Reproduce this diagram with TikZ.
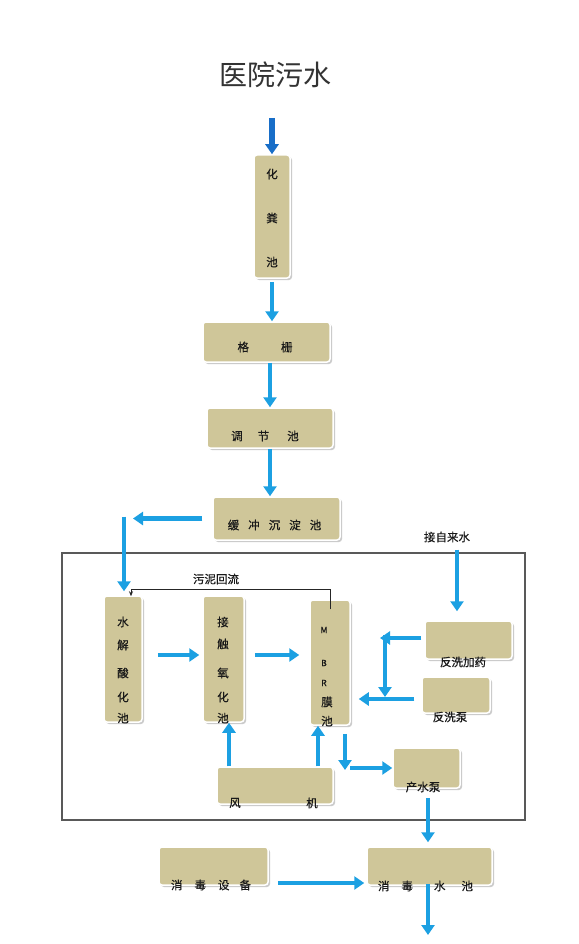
\documentclass[tikz,border=0pt]{standalone}
\usepackage{fontspec}
\newfontfamily\cjk{Noto Sans CJK SC}
\newfontfamily\cjkm{Noto Sans CJK SC}[UprightFeatures={FakeBold=0.6}]
\usetikzlibrary{arrows.meta,shadows,calc}
\definecolor{boxtan}{RGB}{207,198,153}
\definecolor{flow}{RGB}{28,160,226}
\definecolor{flowdark}{RGB}{24,110,200}
\begin{document}
\begin{tikzpicture}[x=1pt,y=-1pt,
  box/.style={draw=white, line width=1.5pt, fill=boxtan, rounded corners=3pt, inner sep=0pt,
    drop shadow={shadow xshift=2pt, shadow yshift=-2pt, fill=black!40}},
  txt/.style={font=\cjkm\fontsize{11.5}{13}\selectfont, text=black!90, inner sep=0pt},
  smalltxt/.style={font=\cjkm\fontsize{8.5}{10}\selectfont, text=black!90, inner sep=0pt},
  flowarr/.style={draw=flow, line width=4.5pt, -{Triangle[width=13pt,length=10pt]}},
  darkarr/.style={draw=flowdark, line width=5.5pt, -{Triangle[width=13pt,length=10pt]}},
  frame/.style={draw=black!65, line width=1.2pt, inner sep=0pt},
  retline/.style={draw=black!85, line width=0.8pt, -{Stealth[length=5pt,width=4pt]}}
]
\fill[white] (0,0) rectangle (578,944);
\useasboundingbox (0,0) rectangle (578,944);

% title
\node[font=\cjk\fontsize{28}{32}\selectfont, text=black!80, inner sep=0pt] (title) at (275,75) {医院污水};

% frame
\node[frame, minimum width=463pt, minimum height=267pt] (frm) at (293.5,686.5) {};

% boxes
\node[box, minimum width=36pt, minimum height=123pt] (hfc) at (272,216.5) {};
\node[box, minimum width=127pt, minimum height=40pt] (gs) at (266.5,342) {};
\node[box, minimum width=126pt, minimum height=40pt] (tj) at (270,428) {};
\node[box, minimum width=127pt, minimum height=43pt] (hc) at (276.5,518.5) {};
\node[box, minimum width=38pt, minimum height=126pt] (sj) at (123,659) {};
\node[box, minimum width=41pt, minimum height=126pt] (jc) at (223.5,659) {};
\node[box, minimum width=40pt, minimum height=125pt] (mbr) at (330,662.5) {};
\node[box, minimum width=87pt, minimum height=38pt] (fxjy) at (468.5,640) {};
\node[box, minimum width=68pt, minimum height=36pt] (fxb) at (456,695) {};
\node[box, minimum width=116pt, minimum height=37pt] (fj) at (275,785.5) {};
\node[box, minimum width=67pt, minimum height=40pt] (csb) at (426.5,768) {};
\node[box, minimum width=125pt, minimum height=38pt] (xdsc) at (429.5,866) {};
\node[box, minimum width=109pt, minimum height=38pt] (xdsb) at (213.5,866) {};

% texts
\foreach \c/\yy [count=\i] in {化/174,粪/218,池/262} \node[txt] (hfc-t\i) at (272,\yy) {\c};
\node[txt] (gs-t) at (265,347) {格\hspace{32pt}栅};
\node[txt] (tj-t) at (265,436) {调\hspace{15pt}节\hspace{18pt}池};
\node[txt] (hc-t) at (274.5,525) {缓\hspace{9pt}冲\hspace{9pt}沉\hspace{9pt}淀\hspace{9pt}池};
\node[txt] (zls) at (447,537) {接自来水};
\node[txt] (wn) at (216,579) {污泥回流};
\foreach \c/\yy [count=\i] in {水/622,解/645,酸/673,化/697,池/718} \node[txt] (sj-t\i) at (123,\yy) {\c};
\foreach \c/\yy [count=\i] in {接/622,触/644,氧/673,化/697,池/718} \node[txt] (jc-t\i) at (223,\yy) {\c};
\foreach \c/\yy [count=\i] in {M/630,B/663,R/683} \node[smalltxt] (mbr-t\i) at (324,\yy) {\c};
\node[txt] (mbr-t4) at (327,702) {膜};
\node[txt] (mbr-t5) at (327,721) {池};
\node[txt] (fxjy-t) at (463,662) {反洗加药};
\node[txt] (fxb-t) at (450,717) {反洗泵};
\node[txt] (csb-t) at (423,787) {产水泵};
\node[txt] (fj-t1) at (235,803) {风};
\node[txt] (fj-t2) at (312,803) {机};
\node[txt] (xdsb-t) at (211,885) {消\hspace{12pt}毒\hspace{12pt}设\hspace{10pt}备};
\node[txt] (xdsc-t) at (425.5,886) {消\hspace{12pt}毒\hspace{21pt}水\hspace{16pt}池};

% helper coordinates
\coordinate (src) at (272,118);
\coordinate (hcturn) at (133,518.5);
\coordinate (rowA) at (0,655);
\coordinate (zlsx) at (457,0);
\coordinate (fxturn) at (385,638);
\coordinate (rowB) at (0,699);
\coordinate (colA) at (229,0);
\coordinate (colB) at (318,0);
\coordinate (mturn) at (345,770);
\coordinate (colC) at (428,0);
\coordinate (rowC) at (0,883);
\coordinate (out) at (428,935);

% connectors
\draw[darkarr] (src) -- (hfc.north);
\draw[flowarr, shorten <=3pt] (hfc.south) -- (hfc.south |- gs.north);
\draw[flowarr] (tj.north |- gs.south) -- (tj.north);
\draw[flowarr] (tj.south) -- (tj.south |- hc.north);
\draw[flowarr, shorten <=10pt] (hc.west) -- (hcturn);
\draw[flowarr, shorten >=4pt] ($(sj.north |- hcturn)+(1,-2)$) -- ($(sj.north)+(1,0)$);
\draw[flowarr, shorten <=15pt, shorten >=3pt] (sj.east |- rowA) -- (jc.west |- rowA);
\draw[flowarr, shorten <=10pt, shorten >=10pt] (jc.east |- rowA) -- (mbr.west |- rowA);
\draw[flowarr, shorten <=7pt, shorten >=9pt] (zls.south -| zlsx) -- (fxjy.north -| zlsx);
\draw[flowarr, shorten <=3pt, shorten >=-5pt] (fxjy.west |- fxturn) -- (fxturn);
\draw[flowarr, shorten >=2pt] ($(fxturn)+(0,-3)$) -- (fxturn |- rowB);
\draw[flowarr, shorten <=7pt, shorten >=8pt] (fxb.west |- rowB) -- (mbr.east |- rowB);
\draw[flowarr] (fj.north -| colA) -- (jc.south -| colA);
\draw[flowarr] (fj.north -| colB) -- (mbr.south -| colB);
\draw[flowarr, shorten <=8pt] (mbr.south -| mturn) -- (mturn);
\draw[flowarr, shorten <=5pt] ($(mturn)+(0,-2)$) -- (csb.west |- 0,768);
\draw[flowarr, shorten <=9pt, shorten >=4pt] (csb.south -| colC) -- (xdsc.north -| colC);
\draw[flowarr, shorten <=9pt, shorten >=2pt] (xdsb.east |- rowC) -- (xdsc.west |- rowC);
\draw[flowarr, shorten <=-2pt] (xdsc.south -| colC) -- (out);
\draw[retline] ($(mbr.north)+(0,10)$) -- ++(0,-20) -| ($(sj.north)+(8,1)$);
\end{tikzpicture}
\end{document}
